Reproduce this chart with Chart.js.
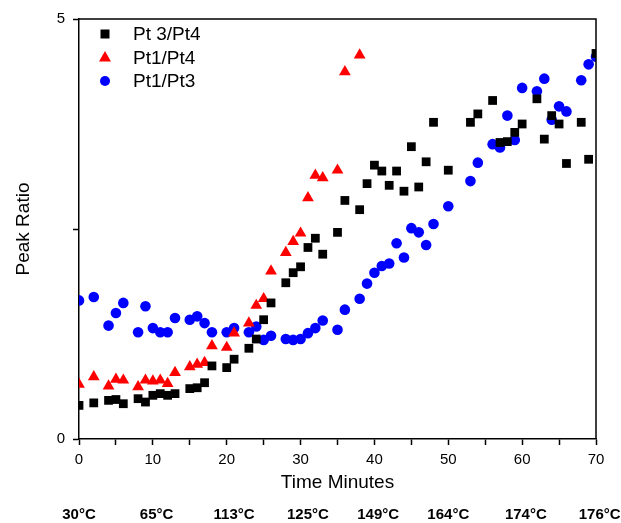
<!DOCTYPE html>
<html lang="en">
<head>
    <meta charset="UTF-8">
    <title>Peak Ratio vs Time</title>
    <script src="https://cdn.jsdelivr.net/npm/chart.js"></script>
    <style>
        body { margin: 0; background: #fff; }
        #wrap { width: 621px; height: 523px; }
    </style>
</head>
<body>
<div id="wrap"><canvas id="ratioChart" width="621" height="523"></canvas></div>

<script>
    // time (minutes) and ratios
    const tPt34 = [0,2,4,5,6,8,9,10,11,12,13,15,16,17,18,20,21,23,24,25,26,28,29,30,31,32,33,35,36,38,39,40,41,42,43,44,45,46,47,48,50,53,54,56,57,58,59,60,62,63,64,65,66,68,69,70];
    const pt34 = [0.40,0.43,0.46,0.47,0.42,0.48,0.44,0.52,0.54,0.52,0.54,0.60,0.61,0.67,0.87,0.85,0.95,1.08,1.19,1.42,1.62,1.86,1.98,2.05,2.28,2.39,2.20,2.46,2.84,2.73,3.04,3.26,3.19,3.02,3.19,2.95,3.48,3.00,3.30,3.77,3.20,3.77,3.87,4.03,3.53,3.54,3.65,3.75,4.05,3.57,3.85,3.75,3.28,3.77,3.33,4.59];

    const tPt14 = [0,2,4,5,6,8,9,10,11,12,13,15,16,17,18,20,21,23,24,25,26,28,29,30,31,32,33,35,36,38];
    const pt14 = [0.65,0.74,0.63,0.71,0.70,0.62,0.70,0.69,0.70,0.66,0.79,0.86,0.89,0.91,1.11,1.09,1.26,1.38,1.59,1.67,2.00,2.22,2.35,2.45,2.87,3.14,3.11,3.20,4.37,4.57];

    const tPt13 = [0,2,4,5,6,8,9,10,11,12,13,15,16,17,18,20,21,23,24,25,26,28,29,30,31,32,33,35,36,38,39,40,41,42,43,44,45,46,47,48,50,53,54,56,57,58,59,60,62,63,64,65,66,68,69,70];
    const pt13 = [1.65,1.69,1.35,1.50,1.62,1.27,1.58,1.32,1.27,1.27,1.44,1.42,1.46,1.38,1.27,1.27,1.32,1.27,1.34,1.18,1.23,1.19,1.18,1.19,1.26,1.32,1.41,1.30,1.54,1.67,1.85,1.98,2.06,2.09,2.33,2.16,2.51,2.46,2.31,2.56,2.77,3.07,3.29,3.51,3.47,3.85,3.56,4.18,4.14,4.29,3.80,3.96,3.90,4.27,4.46,4.55];

    // temperature labels under the axis, and the minute they sit under
    const tempLabels = ["30°C","65°C","113°C","125°C","149°C","164°C","174°C","176°C"];
    const tempAt = [0, 10.5, 21, 31, 40.5, 50, 60.5, 70.5];

    const FONT = "'Liberation Sans', Arial, sans-serif";

    const pts = (xs, ys) => xs.map((x, i) => ({ x: x, y: ys[i] }));

    // box round the plot + legend inside + temperature row
    const extras = {
        id: 'extras',
        afterDraw(chart) {
            const ctx = chart.ctx;
            const a = chart.chartArea;
            ctx.save();
            ctx.strokeStyle = '#000';
            ctx.lineWidth = 1.5;
            ctx.beginPath();
            ctx.moveTo(a.left, a.top);
            ctx.lineTo(a.right, a.top);
            ctx.lineTo(a.right, a.bottom);
            ctx.stroke();

            // legend
            const mx = a.left + 26, ty = a.top + 15, step = 23.5;
            ctx.font = '19px ' + FONT;
            ctx.textBaseline = 'middle';
            ctx.textAlign = 'left';
            chart.data.datasets.forEach((ds, i) => {
                const y = ty + i * step;
                ctx.fillStyle = ds.backgroundColor;
                ctx.beginPath();
                if (ds.pointStyle === 'rect') {
                    ctx.rect(mx - 4.5, y - 4.5, 9, 9);
                } else if (ds.pointStyle === 'triangle') {
                    ctx.moveTo(mx, y - 6.5);
                    ctx.lineTo(mx + 6, y + 4);
                    ctx.lineTo(mx - 6, y + 4);
                    ctx.closePath();
                } else {
                    ctx.arc(mx, y, 5, 0, Math.PI * 2);
                }
                ctx.fill();
                ctx.fillStyle = '#000';
                ctx.fillText(ds.label, mx + 28, y + 1);
            });

            // temperatures
            const xs = chart.scales.x;
            ctx.font = 'bold 15px ' + FONT;
            ctx.textAlign = 'center';
            tempLabels.forEach((lab, i) => {
                ctx.fillText(lab, xs.getPixelForValue(tempAt[i]), 515);
            });
            ctx.restore();
        }
    };

    new Chart(document.getElementById('ratioChart'), {
        type: 'scatter',
        data: {
            datasets: [
                { label: 'Pt 3/Pt4', data: pts(tPt34, pt34), pointStyle: 'rect', pointRadius: 6.2,
                  backgroundColor: '#000000', borderWidth: 0, clip: 0 },
                { label: 'Pt1/Pt4', data: pts(tPt14, pt14), pointStyle: 'triangle', pointRadius: 6.8,
                  backgroundColor: '#ff0000', borderWidth: 0, clip: 0 },
                { label: 'Pt1/Pt3', data: pts(tPt13, pt13), pointStyle: 'circle', pointRadius: 5.3,
                  backgroundColor: '#0000ff', borderWidth: 0, clip: 0 }
            ]
        },
        options: {
            responsive: false,
            animation: false,
            layout: { padding: { top: 19, right: 25, left: 0, bottom: 0 } },
            plugins: { legend: { display: false }, tooltip: { enabled: false } },
            scales: {
                x: {
                    type: 'linear', min: 0, max: 70,
                    afterFit: s => { s.height = 84; },
                    border: { display: true, color: '#000', width: 1.5 },
                    grid: { drawOnChartArea: false, drawTicks: true, tickLength: 6, color: '#000', tickWidth: 1.5 },
                    ticks: {
                        stepSize: 5, padding: 6, color: '#000', maxRotation: 0, autoSkip: false,
                        font: { family: FONT, size: 15 },
                        callback: v => (v % 10 === 0 ? v : '')
                    },
                    title: { display: true, text: 'Time Minutes', color: '#000',
                             font: { family: FONT, size: 19 }, padding: { top: 0, bottom: 29 } }
                },
                y: {
                    type: 'linear', min: 0, max: 5,
                    afterFit: s => { s.width = 79; },
                    border: { display: true, color: '#000', width: 1.5 },
                    grid: { drawOnChartArea: false, drawTicks: true, tickLength: 6, color: '#000', tickWidth: 1.5 },
                    ticks: {
                        stepSize: 2.5, padding: 8, color: '#000',
                        font: { family: FONT, size: 15 },
                        callback: v => (v === 0 || v === 5 ? v : '')
                    },
                    title: { display: true, text: 'Peak Ratio', color: '#000',
                             font: { family: FONT, size: 19 }, padding: { top: 12, bottom: 0 } }
                }
            }
        },
        plugins: [extras]
    });
</script>
</body>
</html>
